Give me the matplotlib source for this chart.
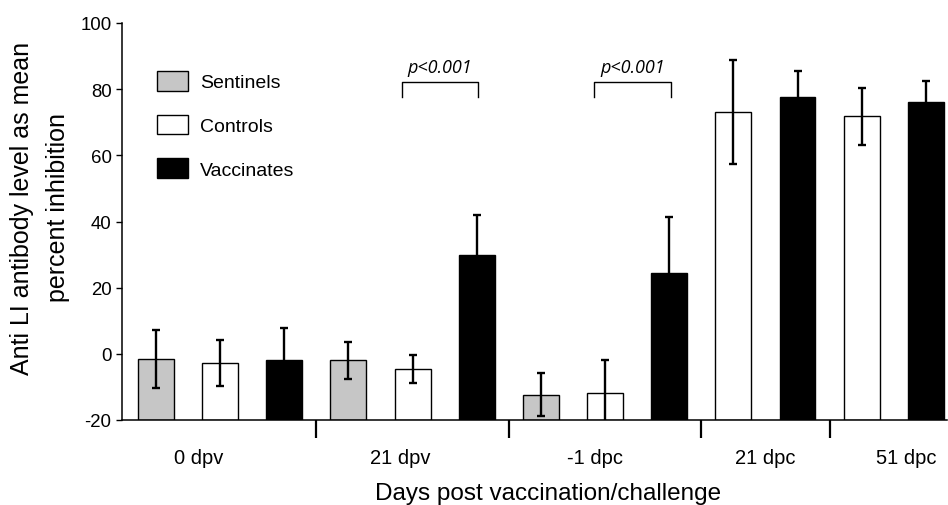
import matplotlib.pyplot as plt
from matplotlib.transforms import blended_transform_factory

plt.rcParams['font.family'] = ['Liberation Sans', 'DejaVu Sans']
plt.rcParams['axes.unicode_minus'] = False

# values (mean percent inhibition, error = SD)
timepoints = ['0 dpv', '21 dpv', '-1 dpc', '21 dpc', '51 dpc']
sentinels = [-1.6, -2.0, -12.4, None, None]
sentinels_err = [8.8, 5.5, 6.5, None, None]
controls = [-2.8, -4.6, -11.9, 73.2, 71.8]
controls_err = [7.0, 4.3, 10.0, 15.7, 8.7]
vaccinates = [-2.0, 30.0, 24.4, 77.5, 76.1]
vaccinates_err = [9.7, 12.0, 17.0, 7.9, 6.4]

# significance brackets: (timepoint index, label)
sig_pairs = [(1, 'p<0.001'), (2, 'p<0.001')]

series = [
    ('Sentinels', sentinels, sentinels_err, '#c6c6c6'),
    ('Controls', controls, controls_err, 'white'),
    ('Vaccinates', vaccinates, vaccinates_err, 'black'),
]

ymin, ymax = -20, 100

# consecutive slots, no gap between groups
pos = {}
slot = 0
groups = []
for ti in range(len(timepoints)):
    first = slot
    for name, vals, errs, col in series:
        if vals[ti] is None:
            continue
        pos[(name, ti)] = slot
        slot += 1
    groups.append((first, slot - 1))

fig = plt.figure(figsize=(9.48, 5.06), dpi=100)
ax = fig.add_axes([122 / 948, 1 - 421 / 506, 825 / 948, 397 / 506])

width = 0.56
for name, vals, errs, col in series:
    xs, ys, es = [], [], []
    for ti, v in enumerate(vals):
        if v is None:
            continue
        xs.append(pos[(name, ti)])
        ys.append(v)
        es.append(errs[ti])
    # bars rise from the bottom of the axis
    ax.bar(xs, [y - ymin for y in ys], width, bottom=ymin, color=col,
           edgecolor='black', linewidth=1.0, label=name, zorder=2)
    ax.errorbar(xs, ys, yerr=es, fmt='none', ecolor='black',
                elinewidth=1.7, capsize=3.2, capthick=1.7, zorder=3)

# p-value brackets between controls and vaccinates
for ti, txt in sig_pairs:
    x0 = pos[('Controls', ti)] - 0.17
    x1 = pos[('Vaccinates', ti)] + 0.02
    ax.plot([x0, x0, x1, x1], [77.5, 82.3, 82.3, 77.5], color='black',
            linewidth=1.0, zorder=3)
    ax.text((x0 + x1) / 2, 86.8, txt, ha='center', va='center',
            fontsize=13, style='italic', family=['Open Sans', 'DejaVu Sans'])

ax.set_ylim(ymin, ymax)
ax.set_xlim(-0.53, 12.33)
ax.set_yticks(range(ymin, ymax + 1, 20))
ax.tick_params(axis='y', labelsize=13.4, length=4.5, width=1.0, pad=3)

separators = [groups[i][1] + 0.5 for i in range(len(groups) - 1)]
ax.set_xticks(separators)
ax.set_xticklabels([])
ax.tick_params(axis='x', length=13, width=1.6, direction='out')

label_x = [0.66, 3.81, 6.84, 9.5, 11.69]
trans = blended_transform_factory(ax.transData, ax.transAxes)
for lx, lab in zip(label_x, timepoints):
    ax.text(lx, -0.108, lab, transform=trans, ha='center', va='baseline',
            fontsize=14.5)

for side in ['top', 'right']:
    ax.spines[side].set_visible(False)
for side in ['left', 'bottom']:
    ax.spines[side].set_linewidth(1.1)

fig.text(40 / 948, 1 - 208 / 506,
         'Anti LI antibody level as mean\npercent inhibition',
         rotation=90, ha='center', va='center', multialignment='center',
         fontsize=18, linespacing=1.6)
fig.text(548 / 948, 1 - 500 / 506, 'Days post vaccination/challenge',
         ha='center', va='baseline', fontsize=17.5)

ax.legend(loc='upper left', bbox_to_anchor=(0.0424, 0.88), frameon=False,
          fontsize=14, handlelength=1.6, handleheight=1.2, labelspacing=1.2,
          handletextpad=0.6, borderpad=0, borderaxespad=0)

fig.savefig('out.png', dpi=100)
